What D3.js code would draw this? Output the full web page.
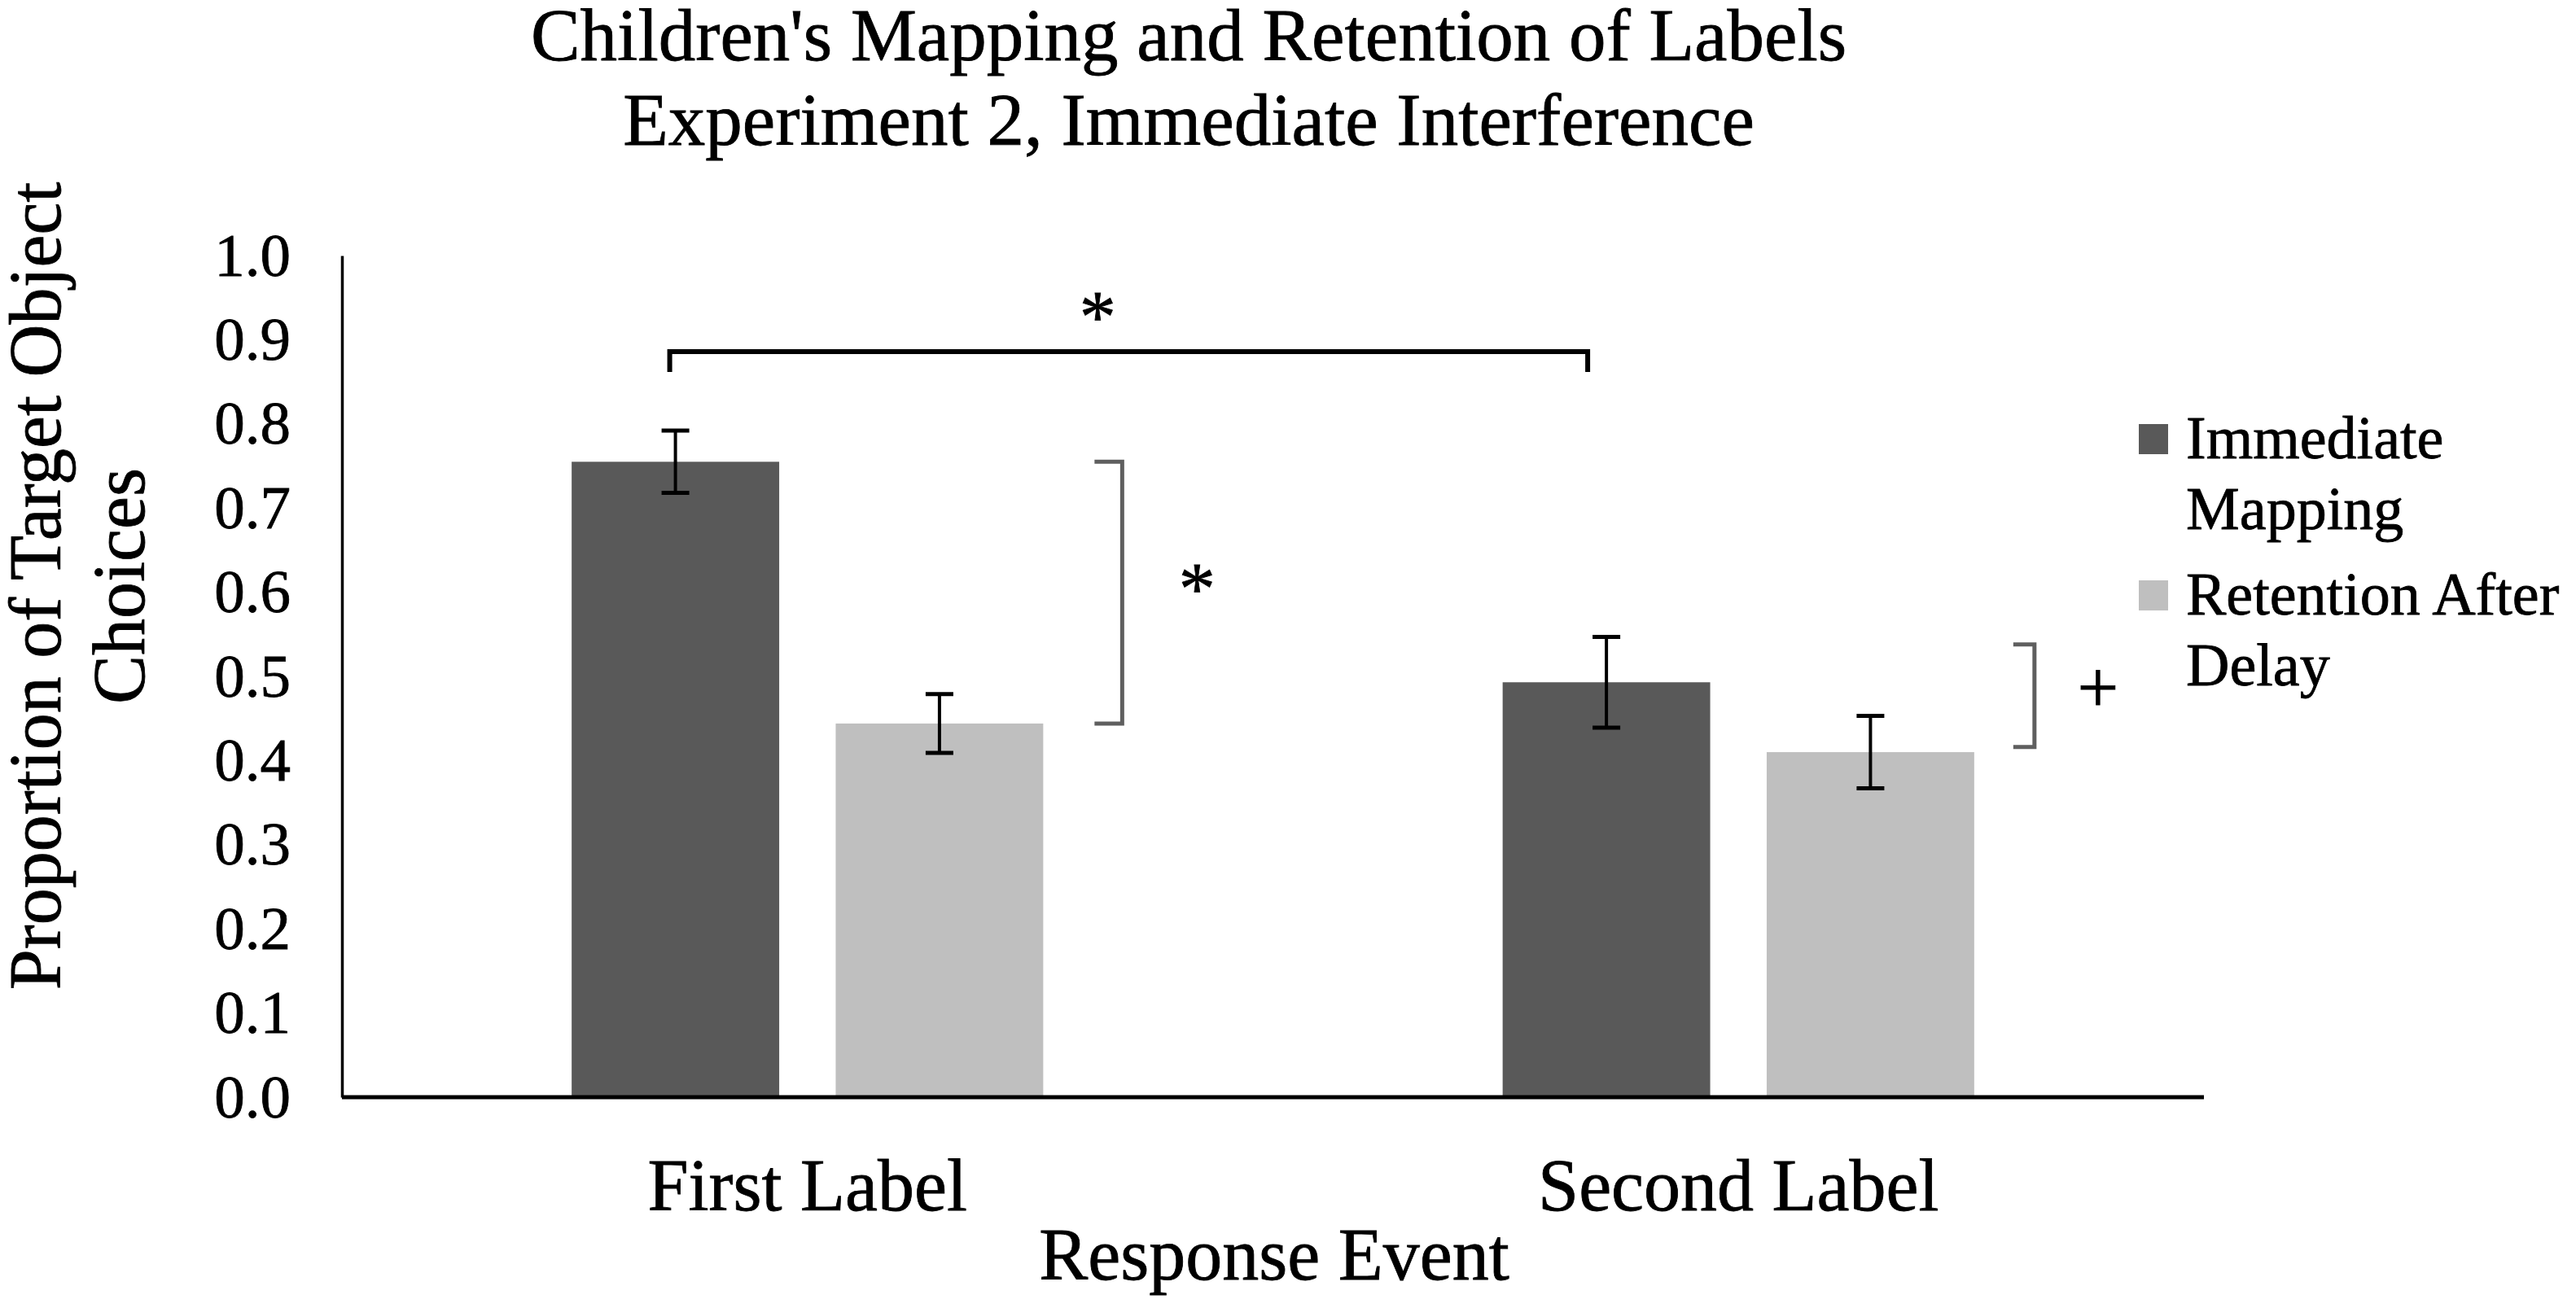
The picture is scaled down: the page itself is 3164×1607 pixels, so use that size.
<!DOCTYPE html>
<html>
  <head>
    <meta charset="utf-8">
    <script src="https://cdnjs.cloudflare.com/ajax/libs/d3/7.8.5/d3.min.js"></script>
    <style>
      body { margin: 0; background: #fff; }
      text { font-family: "Liberation Serif", "Times New Roman", serif; fill: #000; stroke: #000; stroke-width: 0.8px; }
    </style>
  </head>
  <body>
    <div id="vis"></div>
    <script type="text/javascript">

        // data
        const categories = ["First Label", "Second Label"];
        const series = ["Immediate Mapping", "Retention After Delay"];
        const legendLines = [["Immediate", "Mapping"], ["Retention After", "Delay"]];
        const immediate = [0.755, 0.493];
        const immediateErr = [0.037, 0.054];
        const retention = [0.444, 0.410];
        const retentionErr = [0.035, 0.043];
        const yTicks = [0, 0.1, 0.2, 0.3, 0.4, 0.5, 0.6, 0.7, 0.8, 0.9, 1.0];
        const titleLines = ["Children's Mapping and Retention of Labels",
                            "Experiment 2, Immediate Interference"];
        const yTitleLines = ["Proportion of Target Object", "Choices"];
        // significance marks: [top of bracket, bottom of bracket, symbol]
        const groupMarks = [[0.755, 0.444, "*"], [0.538, 0.416, "+"]];
        const acrossMark = [0.886, "*"];

        const colors = ["#595959", "#bfbfbf"];

        const svg = d3.select("#vis")
            .append("svg")
            .attr("width", 3164)
            .attr("height", 1607);

        const x0 = d3.scaleBand()
            .domain(categories)
            .range([420, 2707])
            .padding(0);

        const x1 = d3.scaleBand()
            .domain(series)
            .range([0, x0.bandwidth()])
            .paddingInner(0.214)
            .paddingOuter(0.87);

        const y = d3.scaleLinear()
            .domain([0, 1])
            .range([1348, 314]);

        const rows = categories.map((c, i) => ({
            cat: c,
            vals: [
                {s: series[0], v: immediate[i], e: immediateErr[i]},
                {s: series[1], v: retention[i], e: retentionErr[i]}
            ]
        }));

        // title
        svg.append("g").selectAll("text")
            .data(titleLines)
            .enter().append("text")
            .attr("x", 1460)
            .attr("y", (d, i) => 74 + i * 104)
            .attr("text-anchor", "middle")
            .style("font-size", "91px")
            .text(d => d);

        // y axis
        const yAxis = svg.append("g")
            .attr("transform", "translate(420,0)")
            .call(d3.axisLeft(y).tickValues(yTicks).tickFormat(d3.format(".1f")).tickSize(0).tickPadding(63));
        yAxis.select(".domain").attr("stroke", "#000").attr("stroke-width", 3.5);
        yAxis.selectAll(".tick text")
            .style("font-family", "'Liberation Serif', 'Times New Roman', serif")
            .style("font-size", "75px")
            .attr("fill", "#000");

        // bars
        const groups = svg.append("g").selectAll("g")
            .data(rows)
            .enter().append("g")
            .attr("transform", d => "translate(" + x0(d.cat) + ",0)");

        groups.selectAll("rect")
            .data(d => d.vals)
            .enter().append("rect")
            .attr("x", d => x1(d.s))
            .attr("y", d => y(d.v))
            .attr("width", x1.bandwidth())
            .attr("height", d => y(0) - y(d.v))
            .attr("fill", (d, i) => colors[i]);

        // error bars
        const eb = groups.selectAll("g.err")
            .data(d => d.vals)
            .enter().append("g")
            .attr("class", "err")
            .attr("stroke", "#000");
        eb.append("line")
            .attr("x1", d => x1(d.s) + x1.bandwidth() / 2)
            .attr("x2", d => x1(d.s) + x1.bandwidth() / 2)
            .attr("y1", d => y(d.v + d.e))
            .attr("y2", d => y(d.v - d.e))
            .attr("stroke-width", 4);
        [1, -1].forEach(sgn => {
            eb.append("line")
                .attr("x1", d => x1(d.s) + x1.bandwidth() / 2 - 17)
                .attr("x2", d => x1(d.s) + x1.bandwidth() / 2 + 17)
                .attr("y1", d => y(d.v + sgn * d.e))
                .attr("y2", d => y(d.v + sgn * d.e))
                .attr("stroke-width", 5);
        });

        // x axis line
        svg.append("line")
            .attr("x1", 420).attr("x2", 2707)
            .attr("y1", y(0)).attr("y2", y(0))
            .attr("stroke", "#000").attr("stroke-width", 5);

        // category labels
        svg.append("g").selectAll("text")
            .data(categories)
            .enter().append("text")
            .attr("x", d => x0(d) + x0.bandwidth() / 2)
            .attr("y", 1487)
            .attr("text-anchor", "middle")
            .style("font-size", "90px")
            .text(d => d);

        svg.append("text")
            .attr("x", 1565)
            .attr("y", 1572)
            .attr("text-anchor", "middle")
            .style("font-size", "90px")
            .text("Response Event");

        // y axis title
        svg.append("g").selectAll("text")
            .data(yTitleLines)
            .enter().append("text")
            .attr("transform", (d, i) => "translate(" + (74 + i * 103) + ",720) rotate(-90)")
            .attr("text-anchor", "middle")
            .style("font-size", "90px")
            .text(d => d);

        // bracket across the two labels
        const lx = x0(categories[0]) + x1(series[0]) + x1.bandwidth() / 2 - 7;
        const rx = x0(categories[1]) + x1(series[0]) + x1.bandwidth() / 2 - 23;
        const by = y(acrossMark[0]);
        svg.append("path")
            .attr("d", d3.line()([[lx, by + 25], [lx, by], [rx, by], [rx, by + 25]]))
            .attr("fill", "none")
            .attr("stroke", "#000")
            .attr("stroke-width", 6);
        svg.append("text")
            .attr("x", (lx + rx) / 2 - 38)
            .attr("y", by - 12)
            .attr("text-anchor", "middle")
            .style("font-size", "90px")
            .text(acrossMark[1]);

        // brackets within each label
        const gapAfter = [63, 48];
        const armLen = [34, 26];
        groupMarks.forEach((m, i) => {
            const edge = x0(categories[i]) + x1(series[1]) + x1.bandwidth() + gapAfter[i];
            const vx = edge + armLen[i];
            svg.append("path")
                .attr("d", d3.line()([[edge, y(m[0])], [vx, y(m[0])], [vx, y(m[1])], [edge, y(m[1])]]))
                .attr("fill", "none")
                .attr("stroke", "#5f5f5f")
                .attr("stroke-width", 5);
            svg.append("text")
                .attr("x", vx + (m[2] === "*" ? 92 : 78))
                .attr("y", (y(m[0]) + y(m[1])) / 2 + (m[2] === "*" ? 26 : 20))
                .attr("text-anchor", "middle")
                .style("font-size", "90px")
                .text(m[2]);
        });

        // legend
        const leg = svg.append("g").selectAll("g")
            .data(series)
            .enter().append("g")
            .attr("transform", (d, i) => "translate(2627," + [521, 713][i] + ")");
        leg.append("rect")
            .attr("width", 36).attr("height", 37)
            .attr("fill", (d, i) => colors[i]);
        leg.each(function (d, i) {
            d3.select(this).selectAll("text")
                .data(legendLines[i])
                .enter().append("text")
                .attr("x", 58)
                .attr("y", (t, j) => 42 + j * 87)
                .style("font-size", "74px")
                .text(t => t);
        });

    </script>
  </body>
</html>
